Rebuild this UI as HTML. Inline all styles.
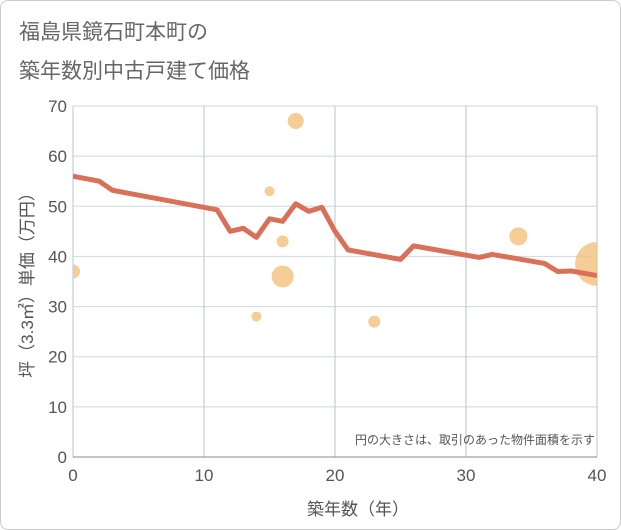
<!DOCTYPE html>
<html><head><meta charset="utf-8"><style>
body{margin:0;background:#fff;font-family:"Liberation Sans","Noto Sans CJK JP",sans-serif;}
#wrap{position:relative;width:619px;height:528px;border:1px solid #ccc;border-radius:8px;overflow:hidden;background:#fff}
</style></head><body>
<div id="wrap">
<svg id="chart" width="621" height="530">
<defs><clipPath id="plotclip"><rect x="72" y="105" width="524" height="351"/></clipPath></defs>
<text x="18" y="38" font-size="21" fill="#666">福島県鏡石町本町の</text>
<text x="18" y="77" font-size="21" fill="#666">築年数別中古戸建て価格</text>
<g id="plot" clip-path="url(#plotclip)"></g>
</svg></div>
<script>
const xTicks=[0,10,20,30,40];
const yTicks=[0,10,20,30,40,50,60,70];
const lineYears=[0,2,3,11,12,13,14,15,16,17,18,19,20,21,25,26,31,32,36,37,38,40];
const linePrices=[56,55,53.2,49.3,45,45.6,43.8,47.5,47,50.5,49,49.8,45,41.3,39.4,42.1,39.8,40.4,38.6,37,37.1,36.2];
const bubbleYears=[0,15,17,16,16,14,23,34,40];
const bubblePrices=[37,53,67,43,36,28,27,44,38.5];
const bubbleSizes=[7,5,8,6,11,5,6,9,22];
const NS="http://www.w3.org/2000/svg";
const svg=document.getElementById('chart');
const plot=document.getElementById('plot');
const X0=72,X1=596,Y0=456,Y1=105;
const sx=v=>X0+(v-0)/(40-0)*(X1-X0);
const sy=v=>Y0-(v-0)/(70-0)*(Y0-Y1);
function mk(t,a,parent){const e=document.createElementNS(NS,t);for(const k in a)e.setAttribute(k,a[k]);(parent||svg).appendChild(e);return e;}
yTicks.forEach(v=>{const l=mk('line',{x1:X0,x2:X1,y1:sy(v),y2:sy(v),stroke:'#cdd8e4','stroke-width':1});


const t=mk('text',{x:X0-6,y:sy(v)+6,'text-anchor':'end','font-size':17,fill:'#555'});t.textContent=v;

});
xTicks.forEach(v=>{const l=mk('line',{x1:sx(v),x2:sx(v),y1:Y1,y2:Y0,stroke:'#b8c6d4','stroke-width':1});


const t=mk('text',{x:sx(v),y:480,'text-anchor':'middle','font-size':17,fill:'#555'});t.textContent=v;

});
const ax=mk('line',{x1:X0,x2:X1,y1:Y0,y2:Y0,stroke:'#888','stroke-width':1});


svg.appendChild(plot);
bubbleYears.forEach((y,i)=>{const c=mk('circle',{cx:sx(y),cy:sy(bubblePrices[i]),r:bubbleSizes[i],fill:'#f3c27d','fill-opacity':0.8},plot);

});
const p=mk('polyline',{points:lineYears.map((y,i)=>sx(y)+','+sy(linePrices[i])).join(' '),fill:'none',stroke:'#d9705a','stroke-width':5,'stroke-linejoin':'round'},plot);


const n=mk('text',{x:594,y:443,'text-anchor':'end','font-size':12,fill:'#555'});n.textContent='円の大きさは、取引のあった物件面積を示す';


const xt=mk('text',{x:357,y:514,'text-anchor':'middle','font-size':17,fill:'#555'});xt.textContent='築年数（年）';


const yt=mk('text',{x:0,y:0,'text-anchor':'middle','font-size':17,fill:'#555',transform:'translate(32,280) rotate(-90)'});yt.textContent='坪（3.3㎡）単価（万円）';


</script></body></html>
